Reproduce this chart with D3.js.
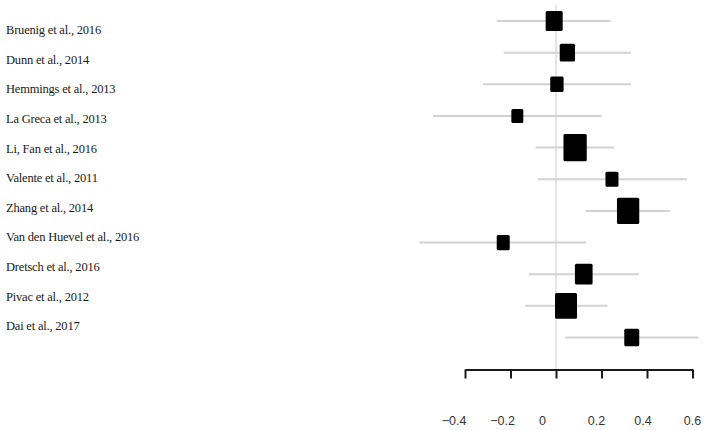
<!DOCTYPE html>
<html>
<head>
<meta charset="utf-8">
<script src="https://cdn.jsdelivr.net/npm/d3@7"></script>
<style>
  body { margin: 0; background: #fff; }
  svg { display: block; }
</style>
</head>
<body>
<div id="chart"></div>
<script>
// study effect sizes
const studies = [
  "Bruenig et al., 2016", "Dunn et al., 2014", "Hemmings et al., 2013",
  "La Greca et al., 2013", "Li, Fan et al., 2016", "Valente et al., 2011",
  "Zhang et al., 2014", "Van den Huevel et al., 2016", "Dretsch et al., 2016",
  "Pivac et al., 2012", "Dai et al., 2017"
];
const estimates = [-0.008, 0.05, 0.004, -0.17, 0.084, 0.246, 0.317, -0.232, 0.122, 0.044, 0.333];
const lower = [-0.26, -0.23, -0.32, -0.54, -0.09, -0.08, 0.13, -0.60, -0.12, -0.135, 0.04];
const upper = [0.24, 0.33, 0.33, 0.20, 0.256, 0.576, 0.50, 0.133, 0.365, 0.226, 0.626];
const weights = [8.9, 7.2, 5.5, 4.4, 16.7, 5.2, 15.3, 5.2, 9.6, 14.9, 6.9];
const xTicks = [-0.4, -0.2, 0, 0.2, 0.4, 0.6];

function forestPlot() {
  const width = 706;
  const height = 430;
  const axisY = 369.5;
  // tick labels in the original sit a bit off their ticks
  const labelNudge = [-11.5, -8.5, -14, -5.5, -4.5, -0.5];

  const data = studies.map((s, i) => ({
    study: s, est: estimates[i], lo: lower[i], hi: upper[i], w: weights[i]
  }));

  const xScale = d3.scaleLinear()
    .domain([-0.4, 0.6])
    .range([465, 692.5]);

  const yScale = d3.scalePoint()
    .domain(studies)
    .range([21, 337.5]);

  const labelScale = d3.scalePoint()
    .domain(studies)
    .range([30, 326]);

  const sizeScale = d3.scaleSqrt()
    .domain([0, d3.max(weights)])
    .range([0, 23.3]);

  const svg = d3.select("#chart")
    .append("svg")
    .attr("width", width)
    .attr("height", height);

  // study labels
  svg.append("g")
    .selectAll("text")
    .data(data)
    .enter().append("text")
    .attr("x", 6)
    .attr("y", d => labelScale(d.study))
    .attr("dy", "0.33em")
    .style("font-family", '"Liberation Serif"')
    .style("font-size", "12.5px")
    .style("letter-spacing", "-0.2px")
    .attr("fill", "#1a1a1a")
    .text(d => d.study);

  // zero line
  svg.append("line")
    .attr("x1", xScale(0)).attr("x2", xScale(0))
    .attr("y1", 5).attr("y2", axisY)
    .attr("stroke", "#dcdcdc")
    .attr("stroke-width", 1.5);

  // confidence intervals
  svg.selectAll(".ci")
    .data(data)
    .enter().append("line")
    .attr("class", "ci")
    .attr("x1", d => xScale(d.lo))
    .attr("x2", d => xScale(d.hi))
    .attr("y1", d => yScale(d.study))
    .attr("y2", d => yScale(d.study))
    .attr("stroke", "#d2d2d2")
    .attr("stroke-width", 2);

  // weighted squares
  svg.selectAll(".box")
    .data(data)
    .enter().append("rect")
    .attr("class", "box")
    .attr("x", d => xScale(d.est) - sizeScale(d.w) / 2)
    .attr("y", d => yScale(d.study) - sizeScale(d.w) * 1.17 / 2)
    .attr("width", d => sizeScale(d.w))
    .attr("height", d => sizeScale(d.w) * 1.17)
    .attr("rx", 1.5)
    .attr("fill", "#000");

  const xAxis = d3.axisBottom(xScale)
    .tickValues(xTicks)
    .tickSize(9)
    .tickSizeOuter(0)
    .tickFormat(d3.format(""));

  const ax = svg.append("g")
    .attr("transform", `translate(0, ${axisY})`)
    .call(xAxis);

  ax.select(".domain").attr("stroke", "#1a1a1a").attr("stroke-width", 2);
  ax.selectAll(".tick line").attr("stroke", "#1a1a1a").attr("stroke-width", 2);
  ax.selectAll(".tick text")
    .attr("y", 51.5)
    .attr("dy", "0.35em")
    .attr("dx", (d, i) => labelNudge[i])
    .style("font-family", '"Liberation Sans"')
    .style("font-size", "12.5px")
    .attr("fill", "#333");
}

forestPlot();
</script>
</body>
</html>
